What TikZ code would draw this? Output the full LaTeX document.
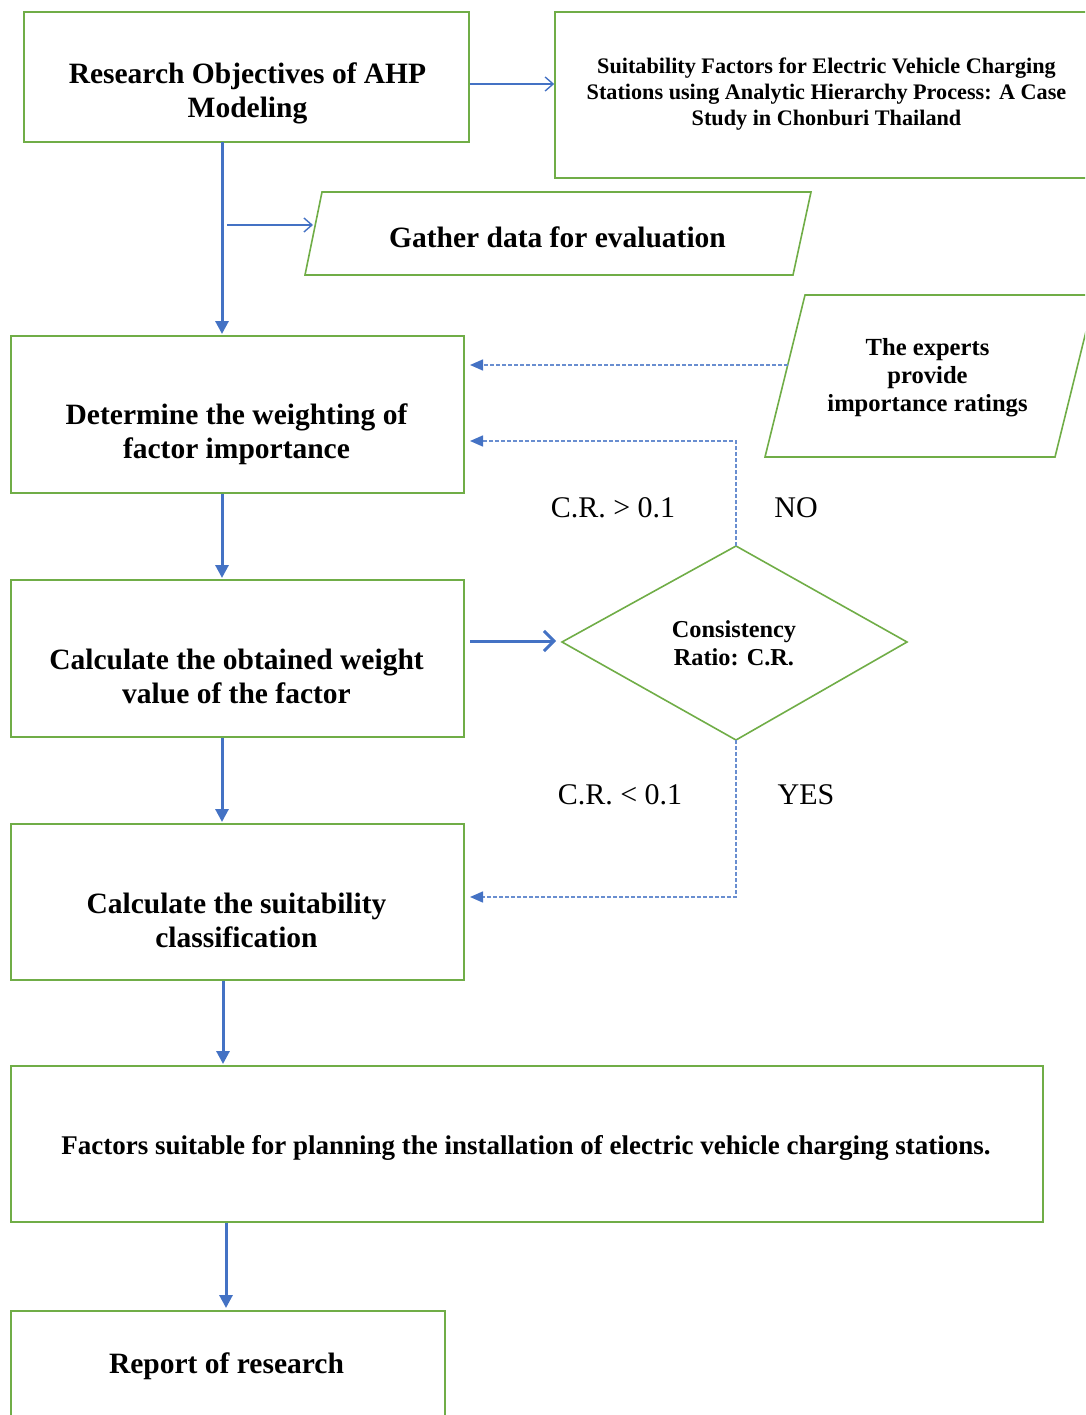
\documentclass[tikz,border=0pt]{standalone}
\usepackage{fontspec}
\setmainfont{Liberation Serif}
\usetikzlibrary{arrows.meta,shapes.geometric}
\definecolor{gbox}{HTML}{70AD47}
\definecolor{barrow}{HTML}{4472C4}
\begin{document}
\begin{tikzpicture}[x=1pt,y=-1pt,
  box/.style={draw=gbox,line width=1.6pt,inner sep=0pt},
  txt/.style={align=center,inner sep=0pt,font=\fontsize{29.5}{34}\selectfont\bfseries},
  thickarr/.style={draw=barrow,line width=3pt,-{Triangle[width=13pt,length=13pt]}},
  thinarr/.style={draw=barrow,line width=1.4pt,-{Straight Barb[width=14pt,length=8pt,line width=1.4pt]}},
  dasharr/.style={draw=barrow!80,line width=1.5pt,dash pattern=on 4pt off 2pt,-{Triangle[width=11pt,length=13pt,color=barrow,fill=barrow,sep=0pt]}},
  lbl/.style={inner sep=0pt,font=\fontsize{30}{32}\selectfont}]
\useasboundingbox (0,0) rectangle (1085,1415);
\clip (0,0) rectangle (1085,1415);
% boxes
\node[box,minimum width=445pt,minimum height=130pt] (A) at (246.5,77) {};
\node[txt] (At) at (247.5,93.5) {Research Objectives of AHP\\Modeling};
\node[box,minimum width=540pt,minimum height=166pt] (B) at (825,95) {};
\node[txt,font=\fontsize{22.2}{26}\selectfont\bfseries] (Bt) at (826.5,94.5) {Suitability Factors for Electric Vehicle Charging\\Stations using Analytic Hierarchy Process: A Case\\Study in Chonburi Thailand};
\node[box,minimum width=453pt,minimum height=157pt] (C) at (237.5,414.5) {};
\node[txt] (Ct) at (236.5,434.5) {Determine the weighting of\\factor importance};
\node[box,minimum width=453pt,minimum height=157pt] (D) at (237.5,658.5) {};
\node[txt] (Dtx) at (236.5,676.5) {Calculate the obtained weight\\value of the factor};
\node[box,minimum width=453pt,minimum height=156pt] (E) at (237.5,902) {};
\node[txt] (Et) at (236.5,920.5) {Calculate the suitability\\classification};
\node[box,minimum width=1032pt,minimum height=156pt] (F) at (527,1144) {};
\node[txt,font=\fontsize{27}{30}\selectfont\bfseries] (Ft) at (526,1147.5) {Factors suitable for planning the installation of electric vehicle charging stations.};
\node[box,minimum width=434pt,minimum height=130pt,anchor=north] (G) at (228,1310) {};
\node[txt] (Gt) at (226.5,1366.5) {Report of research};
% gather parallelogram
\draw[draw=gbox,line width=1.6pt] (305,275) -- (322,192) -- (811,192) -- (793,275) -- cycle;
\node[txt] (Gat) at (557.5,237.5) {Gather data for evaluation};
\coordinate (Gin) at (313,225);
% experts parallelogram
\draw[draw=gbox,line width=1.6pt] (765,457) -- (805,295) -- (1095,295) -- (1055,457) -- cycle;
\node[txt,font=\fontsize{24.6}{28}\selectfont\bfseries] (Ex) at (927.5,378) {The experts\\provide\\importance ratings};
\coordinate (Exout) at (788,365);
% diamond
\draw[draw=gbox,line width=1.6pt] (562,642) -- (736,546) -- (907,642) -- (736,740) -- cycle;
\coordinate (Dtop) at (736,546);
\coordinate (Dbot) at (736,740);
\coordinate (Dleft) at (556,641);
\node[txt,font=\fontsize{24.3}{28}\selectfont\bfseries] (Dt) at (734,643.5) {Consistency\\Ratio: C.R.};
% labels
\node[lbl] (l1) at (613,508) {C.R. \textgreater{} 0.1};
\node[lbl] (l2) at (796,508) {NO};
\node[lbl] (l3) at (620,795) {C.R. \textless{} 0.1};
\node[lbl] (l4) at (806,795) {YES};
% connectors
\draw[thinarr] (A.east|-0,84) -- (B.west|-0,84);
\draw[thickarr] (222,142) -- (222,334);
\draw[thinarr] (227,225) -- (Gin);
\draw[dasharr] (Exout) -- (470,365);
\draw[dasharr] (Dtop) -- (736,441) -- (470,441);
\draw[draw=barrow,line width=3pt,-{Straight Barb[width=20pt,length=10pt,line width=3pt]}] (470,641) -- (Dleft);
\draw[dasharr] (Dbot) -- (736,897) -- (470,897);
\draw[thickarr] (C.south-|222,0) -- (222,578);
\draw[thickarr] (D.south-|222,0) -- (222,822);
\draw[thickarr] (E.south-|223,0) -- (223,1064);
\draw[thickarr] (F.south-|226,0) -- (226,1308);
\end{tikzpicture}
\end{document}
